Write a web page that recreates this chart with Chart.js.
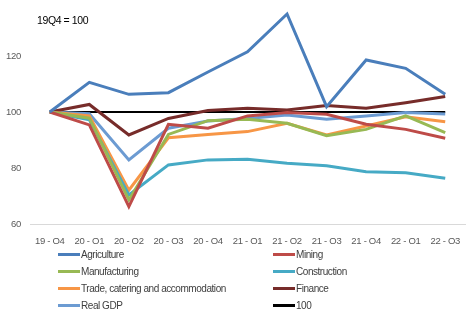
<!DOCTYPE html>
<html>
<head>
<meta charset="utf-8">
<script src="https://cdn.jsdelivr.net/npm/chart.js@4"></script>
<style>
  html, body { margin: 0; padding: 0; background: #fff; }
  #wrap { position: relative; width: 475px; height: 322px; font-family: "Liberation Sans", Arial, sans-serif; }
  #note { position: absolute; left: 37px; top: 14px; font-size: 10.5px; letter-spacing: -0.4px; color: #000; }
  #legend { position: absolute; left: 58px; top: 247px; width: 417px; display: grid; grid-template-columns: 215px 200px; row-gap: 2px; font-size: 10px; letter-spacing: -0.45px; color: #404040; }
  .item { display: flex; align-items: center; height: 15px; }
  .swatch { width: 22px; height: 3px; margin-right: 1px; }
</style>
</head>
<body>
<div id="wrap">
  <canvas id="chart" width="475" height="322"></canvas>
  <div id="note">19Q4 = 100</div>
  <div id="legend"></div>
</div>
<script>
const quarters = ['19 - Q4', '20 - Q1', '20 - Q2', '20 - Q3', '20 - Q4', '21 - Q1', '21 - Q2', '21 - Q3', '21 - Q4', '22 - Q1', '22 - Q3'];

const agriculture   = [100, 110.6, 106.3, 106.9, 114.3, 121.5, 135.0, 101.9, 118.6, 115.6, 106.3];
const mining        = [100, 95.4, 66.2, 95.6, 94.2, 98.6, 99.8, 99.2, 95.6, 93.8, 90.6];
const manufacturing = [100, 97.8, 68.6, 92.0, 96.9, 97.4, 96.0, 91.5, 93.8, 98.6, 92.6];
const construction  = [100, 97.2, 70.4, 81.1, 82.9, 83.1, 81.7, 80.8, 78.7, 78.3, 76.3];
const trade         = [100, 98.6, 72.1, 90.8, 92.0, 93.0, 96.0, 91.8, 95.0, 98.3, 96.5];
const finance       = [100, 102.7, 91.8, 97.7, 100.5, 101.3, 100.7, 102.3, 101.3, 103.3, 105.5];
const realGdp       = [100, 99.4, 82.9, 94.2, 96.8, 97.7, 98.9, 97.4, 98.6, 99.8, 99.3];
const base          = [100, 100, 100, 100, 100, 100, 100, 100, 100, 100, 100];

const yTicks = [60, 80, 100, 120];

function series(label, data, color, width) {
  return {
    label, data,
    borderColor: color,
    backgroundColor: color,
    borderWidth: width || 3,
    pointRadius: 0,
    tension: 0,
    fill: false
  };
}

const datasets = [
  series('Agriculture', agriculture, '#4A7EBB'),
  series('Mining', mining, '#BE4B48'),
  series('Manufacturing', manufacturing, '#98B954'),
  series('Construction', construction, '#46AAC5'),
  series('Trade, catering and accommodation', trade, '#F79646'),
  series('Finance', finance, '#772C2A'),
  series('Real GDP', realGdp, '#6C9BD2'),
  series('100', base, '#000000', 2)
];

const font = { family: '"Liberation Sans", Arial, sans-serif', size: 9.5 };

// squeeze the canvas text a little, the original uses a narrow font
const narrowText = {
  id: 'narrowText',
  beforeDraw: c => { c.ctx.letterSpacing = '-0.3px'; }
};

const chart = new Chart(document.getElementById('chart'), {
  type: 'line',
  data: { labels: quarters, datasets },
  plugins: [narrowText],
  options: {
    responsive: false,
    animation: false,
    layout: { padding: { left: 0, right: 10, top: 0, bottom: 78 } },
    plugins: { legend: { display: false }, tooltip: { enabled: false } },
    scales: {
      x: {
        offset: true,
        grid: { display: false },
        border: { display: true, color: '#d9d9d9', width: 1 },
        ticks: { color: '#595959', font, maxRotation: 0, autoSkip: false, padding: 4 },
        afterFit: s => { s.height = 20; }
      },
      y: {
        min: 60, max: 140,
        afterBuildTicks: s => { s.ticks = yTicks.map(v => ({ value: v })); },
        grid: { display: false },
        border: { display: false },
        ticks: { color: '#595959', font, padding: 1 },
        afterFit: s => { s.width = 30; s.paddingTop = 0; }
      }
    }
  }
});

const legend = document.getElementById('legend');
chart.data.datasets.forEach(ds => {
  const item = document.createElement('div');
  item.className = 'item';
  const sw = document.createElement('span');
  sw.className = 'swatch';
  sw.style.background = ds.borderColor;
  const txt = document.createElement('span');
  txt.textContent = ds.label;
  item.appendChild(sw);
  item.appendChild(txt);
  legend.appendChild(item);
});
</script>
</body>
</html>
